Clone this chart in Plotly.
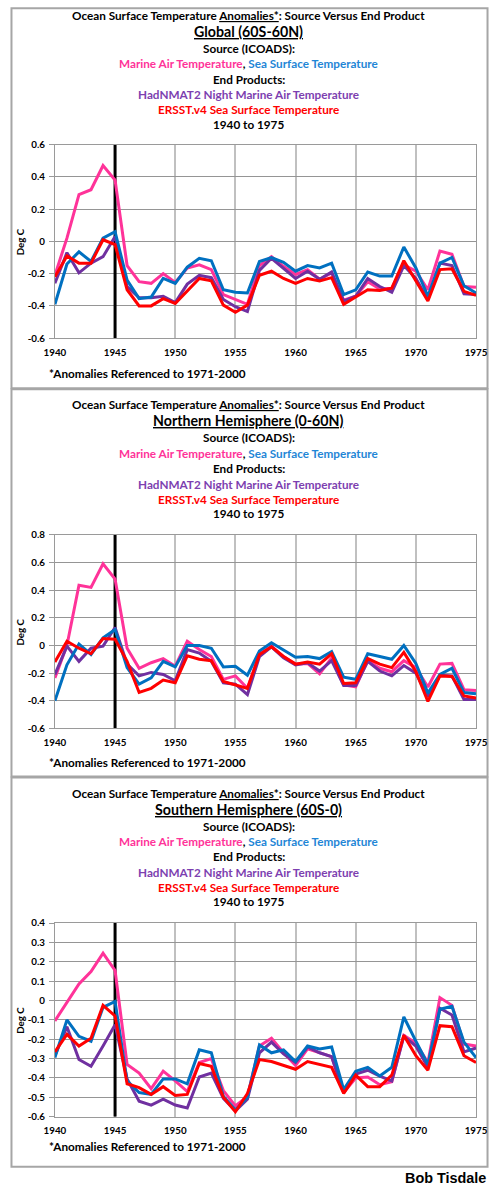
import plotly.graph_objects as go

# Figure size. The page is photographed with a small margin and rescaled into the
# 500x1186 picture, so picture positions are mapped to figure positions below.
W, H = 500, 1186
PAGE_MARGIN = 8
X_OFF, X_SCALE = 11.0, 0.956
SY = H / (H + 2 * PAGE_MARGIN)
FS = 1.03  # font compensation for the scaling

years = list(range(1940, 1976))
x_ticks = [1940, 1945, 1950, 1955, 1960, 1965, 1970, 1975]
x_ticktext = ["1940", "1945", "1950", "1955", "1960", "1965", "1970", "1975"]
marker_year = 1945

# ---- Global (60S-60N)
g_mat = [-0.21, 0.02, 0.29, 0.32, 0.47, 0.38, -0.15, -0.25, -0.26, -0.20, -0.255, -0.165, -0.145, -0.175,
         -0.33, -0.36, -0.39, -0.15, -0.095, -0.155, -0.205, -0.175, -0.235, -0.195, -0.365, -0.34, -0.25,
         -0.295, -0.29, -0.145, -0.185, -0.30, -0.06, -0.08, -0.28, -0.285]
g_sst = [-0.39, -0.14, -0.065, -0.125, 0.02, 0.06, -0.24, -0.355, -0.345, -0.23, -0.26, -0.16, -0.105, -0.12,
         -0.30, -0.315, -0.32, -0.125, -0.10, -0.13, -0.185, -0.15, -0.165, -0.135, -0.33, -0.30, -0.19,
         -0.215, -0.215, -0.035, -0.165, -0.34, -0.135, -0.10, -0.275, -0.32]
g_nmat = [-0.26, -0.07, -0.195, -0.135, -0.095, 0.03, -0.28, -0.35, -0.35, -0.34, -0.38, -0.265, -0.21, -0.225,
          -0.36, -0.405, -0.435, -0.18, -0.105, -0.165, -0.23, -0.185, -0.235, -0.19, -0.37, -0.34, -0.23,
          -0.28, -0.315, -0.15, -0.23, -0.36, -0.135, -0.15, -0.325, -0.33]
g_ersst = [-0.22, -0.09, -0.135, -0.135, 0.01, -0.02, -0.30, -0.40, -0.40, -0.355, -0.385, -0.31, -0.23, -0.245,
           -0.395, -0.44, -0.395, -0.21, -0.185, -0.23, -0.26, -0.23, -0.245, -0.225, -0.39, -0.345, -0.30,
           -0.305, -0.29, -0.12, -0.245, -0.37, -0.175, -0.17, -0.31, -0.335]

# ---- Northern Hemisphere (0-60N)
n_mat = [-0.235, 0.0, 0.435, 0.42, 0.59, 0.48, -0.02, -0.165, -0.125, -0.095, -0.15, 0.03, -0.03, -0.08,
         -0.245, -0.22, -0.31, -0.065, -0.005, -0.08, -0.135, -0.13, -0.205, -0.09, -0.285, -0.30, -0.11,
         -0.165, -0.19, -0.11, -0.16, -0.30, -0.135, -0.13, -0.32, -0.325]
n_sst = [-0.40, -0.14, 0.01, -0.065, 0.055, 0.115, -0.16, -0.28, -0.235, -0.115, -0.155, 0.0, 0.0, -0.02,
         -0.155, -0.15, -0.215, -0.04, 0.02, -0.035, -0.085, -0.08, -0.095, -0.045, -0.23, -0.245, -0.06,
         -0.08, -0.10, 0.0, -0.13, -0.345, -0.21, -0.165, -0.34, -0.35]
n_nmat = [-0.21, -0.005, -0.115, -0.02, -0.005, 0.13, -0.135, -0.22, -0.195, -0.21, -0.255, -0.03, -0.055, -0.115,
          -0.27, -0.28, -0.355, -0.08, -0.01, -0.09, -0.14, -0.125, -0.185, -0.11, -0.29, -0.29, -0.115,
          -0.185, -0.22, -0.145, -0.20, -0.37, -0.215, -0.22, -0.39, -0.39]
n_ersst = [-0.12, 0.03, -0.02, -0.06, 0.05, 0.045, -0.115, -0.34, -0.31, -0.25, -0.27, -0.075, -0.10, -0.11,
           -0.26, -0.285, -0.31, -0.065, -0.01, -0.08, -0.135, -0.12, -0.135, -0.06, -0.275, -0.27, -0.095,
           -0.135, -0.16, -0.05, -0.19, -0.405, -0.22, -0.225, -0.365, -0.38]

# ---- Southern Hemisphere (60S-0)
s_mat = [-0.105, -0.01, 0.085, 0.15, 0.245, 0.155, -0.33, -0.375, -0.455, -0.365, -0.415, -0.47, -0.32, -0.30,
         -0.465, -0.545, -0.495, -0.235, -0.195, -0.27, -0.335, -0.25, -0.27, -0.29, -0.475, -0.40, -0.395,
         -0.435, -0.42, -0.18, -0.22, -0.32, 0.015, -0.025, -0.225, -0.235]
s_sst = [-0.295, -0.10, -0.185, -0.21, -0.035, -0.005, -0.415, -0.475, -0.485, -0.405, -0.405, -0.43, -0.255, -0.27,
         -0.495, -0.565, -0.50, -0.23, -0.27, -0.255, -0.315, -0.235, -0.25, -0.24, -0.46, -0.365, -0.345,
         -0.39, -0.345, -0.085, -0.21, -0.33, -0.045, -0.03, -0.215, -0.295]
s_nmat = [-0.285, -0.135, -0.305, -0.34, -0.235, -0.125, -0.405, -0.52, -0.54, -0.51, -0.54, -0.555, -0.395, -0.375,
          -0.505, -0.57, -0.51, -0.27, -0.215, -0.275, -0.32, -0.24, -0.27, -0.29, -0.475, -0.38, -0.36,
          -0.39, -0.415, -0.185, -0.235, -0.345, -0.04, -0.075, -0.265, -0.245]
s_ersst = [-0.265, -0.175, -0.235, -0.195, -0.025, -0.08, -0.43, -0.45, -0.485, -0.445, -0.49, -0.485, -0.325, -0.34,
           -0.50, -0.575, -0.48, -0.305, -0.315, -0.335, -0.355, -0.315, -0.33, -0.345, -0.48, -0.385, -0.445,
           -0.445, -0.385, -0.18, -0.285, -0.36, -0.13, -0.135, -0.285, -0.32]

y_ticks_12 = [0.6, 0.4, 0.2, 0.0, -0.2, -0.4, -0.6]
y_text_1 = ["0.6", "0.4", "0.2", "0", "-0.2", "-0.4", "-0.6"]
y_ticks_2 = [0.8, 0.6, 0.4, 0.2, 0.0, -0.2, -0.4, -0.6]
y_text_2 = ["0.8", "0.6", "0.4", "0.2", "0", "-0.2", "-0.4", "-0.6"]
y_ticks_3 = [0.4, 0.3, 0.2, 0.1, 0.0, -0.1, -0.2, -0.3, -0.4, -0.5, -0.6]
y_text_3 = ["0.4", "0.3", "0.2", "0.1", "0", "-0.1", "-0.2", "-0.3", "-0.4", "-0.5", "-0.6"]

region_titles = ["Global (60S-60N)", "Northern Hemisphere (0-60N)", "Southern Hemisphere (60S-0)"]

C_MAT = "#FF3399"
C_SST = "#0070C0"
C_NMAT = "#7030A0"
C_ERSST = "#FF0000"
T_SST = "#1F86D6"
T_NMAT = "#7D3FB0"

FONT = "Lato"


def px(p):
    # picture column -> paper x
    return ((p - X_OFF) / X_SCALE) / W


def py(p):
    # picture row -> paper y
    return 1 - (p / SY - PAGE_MARGIN) / H


def clamp(v):
    return min(max(v, 0.001), 0.999)


panels = [
    dict(series=[g_mat, g_nmat, g_sst, g_ersst], yr=[-0.6, 0.6], yt=y_ticks_12, ytt=y_text_1,
         top=0, bottom=388, plot=(145, 338), foot=373),
    dict(series=[n_mat, n_nmat, n_sst, n_ersst], yr=[-0.6, 0.8], yt=y_ticks_2, ytt=y_text_2,
         top=388, bottom=775, plot=(534, 727), foot=761),
    dict(series=[s_mat, s_nmat, s_sst, s_ersst], yr=[-0.6, 0.4], yt=y_ticks_3, ytt=y_text_3,
         top=775, bottom=1164, plot=(921, 1114), foot=1144),
]
colors = [C_MAT, C_NMAT, C_SST, C_ERSST]
names = ["Marine Air Temperature (ICOADS)", "HadNMAT2 Night Marine Air Temperature",
         "Sea Surface Temperature (ICOADS)", "ERSST.v4 Sea Surface Temperature"]

fig = go.Figure()
annotations = []
shapes = []
layout = {}

line_offsets = [16.5, 32.5, 49.5, 64.5, 80, 95.5, 110.5, 125]
TS = 11.4 * FS
RS = 13.8 * FS
KS = 9.5 * FS

for i, p in enumerate(panels):
    k = "" if i == 0 else str(i + 1)
    xa, ya = "x" + k, "y" + k
    # vertical 1945 marker, drawn under the data lines
    fig.add_trace(go.Scatter(x=[marker_year, marker_year], y=p["yr"], mode="lines",
                             line=dict(color="#000000", width=3), xaxis=xa, yaxis=ya,
                             showlegend=False, hoverinfo="skip"))
    for ser, col, nm in zip(p["series"], colors, names):
        fig.add_trace(go.Scatter(x=years, y=ser, mode="lines", name=nm,
                                 line=dict(color=col, width=3), xaxis=xa, yaxis=ya,
                                 showlegend=False))
    t, b = p["plot"]
    layout["xaxis" + k] = dict(
        domain=[px(55), px(477)], range=[1940, 1975], anchor=ya,
        tickvals=x_ticks, ticktext=x_ticktext, showgrid=True,
        gridcolor="#C0C0C0", gridwidth=1.5, zeroline=False,
        showline=True, linecolor="#9A9A9A", linewidth=1, mirror=True,
        ticks="", ticklabelstandoff=5,
        tickfont=dict(family=FONT, size=KS, color="#000", weight="bold"))
    layout["yaxis" + k] = dict(
        domain=[py(b), py(t)], range=p["yr"], anchor=xa,
        tickvals=p["yt"], ticktext=p["ytt"], showgrid=True,
        gridcolor="#959595", gridwidth=1, zeroline=False,
        showline=True, linecolor="#9A9A9A", linewidth=1, mirror=True,
        ticks="outside", ticklen=5, tickcolor="#9A9A9A", ticklabelstandoff=2,
        tickfont=dict(family=FONT, size=KS, color="#000", weight="bold"))
    # panel frame
    shapes.append(dict(type="rect", xref="paper", yref="paper", x0=clamp(px(1)), x1=clamp(px(497)),
                       y0=clamp(py(p["bottom"])), y1=clamp(py(p["top"] + 1)),
                       line=dict(color="#A6A6A6", width=2), fillcolor="rgba(0,0,0,0)", layer="below"))
    lines = [
        ("<b>Ocean Surface Temperature <u>Anomalies*</u>: Source Versus End Product</b>", TS, "#000"),
        ("<b><u>" + region_titles[i] + "</u></b>", RS, "#000"),
        ("<b>Source (ICOADS):</b>", TS, "#000"),
        ("<b><span style='color:" + C_MAT + "'>Marine Air Temperature</span>, <span style='color:" + T_SST
         + "'>Sea Surface Temperature</span></b>", TS, "#000"),
        ("<b>End Products:</b>", TS, "#000"),
        ("<b>HadNMAT2 Night Marine Air Temperature</b>", TS, T_NMAT),
        ("<b>ERSST.v4 Sea Surface Temperature</b>", TS, C_ERSST),
        ("<b>1940 to 1975</b>", TS, "#000"),
    ]
    for (txt, sz, col), off in zip(lines, line_offsets):
        annotations.append(dict(text=txt, xref="paper", yref="paper", x=px(249), y=py(p["top"] + off),
                                xanchor="center", yanchor="middle", showarrow=False,
                                font=dict(family=FONT, size=sz, color=col)))
    annotations.append(dict(text="<b>Deg C</b>", xref="paper", yref="paper", x=px(20), y=py((t + b) / 2),
                            xanchor="center", yanchor="middle", textangle=-90, showarrow=False,
                            font=dict(family=FONT, size=KS, color="#000")))
    annotations.append(dict(text="<b>*Anomalies Referenced to 1971-2000</b>", xref="paper", yref="paper",
                            x=px(47), y=py(p["foot"]), xanchor="left", yanchor="middle", showarrow=False,
                            font=dict(family=FONT, size=TS, color="#000")))

annotations.append(dict(text="<b>Bob Tisdale</b>", xref="paper", yref="paper", x=clamp(px(494)), y=py(1175),
                        xanchor="right", yanchor="middle", showarrow=False,
                        font=dict(family="Liberation Sans", size=14 * FS, color="#000")))

fig.update_layout(width=W, height=H, margin=dict(l=0, r=0, t=0, b=0),
                  paper_bgcolor="white", plot_bgcolor="white",
                  annotations=annotations, shapes=shapes, **layout)

fig.write_html("out.html")
